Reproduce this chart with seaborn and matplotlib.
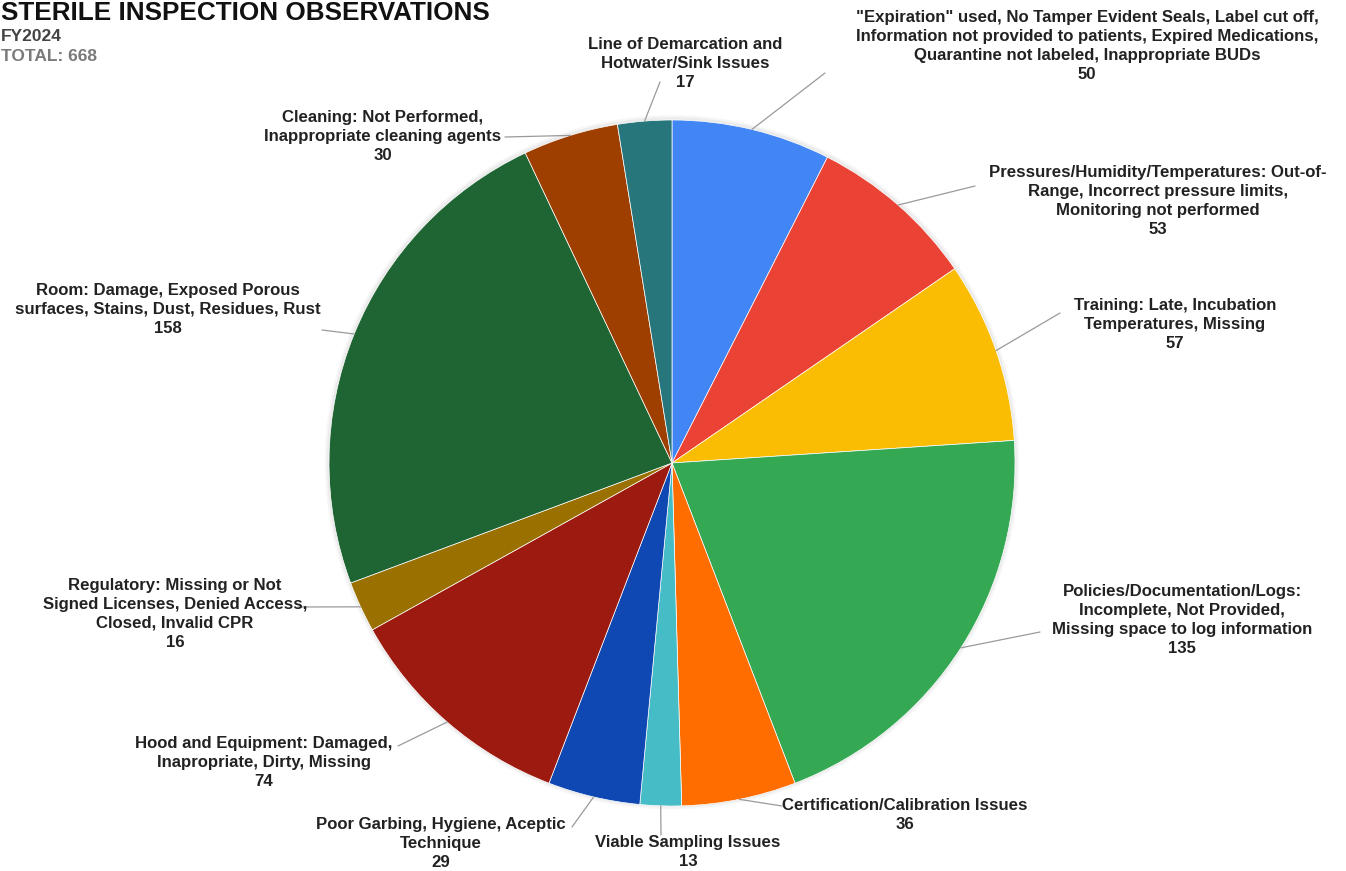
import numpy as np
import matplotlib
matplotlib.use("Agg")
import matplotlib.pyplot as plt
from matplotlib.patches import Circle
import seaborn as sns

categories = [
    '"Expiration" used, No Tamper Evident Seals, Label cut off,\nInformation not provided to patients, Expired Medications,\nQuarantine not labeled, Inappropriate BUDs',
    'Pressures/Humidity/Temperatures: Out-of-\nRange, Incorrect pressure limits,\nMonitoring not performed',
    'Training: Late, Incubation\nTemperatures, Missing',
    'Policies/Documentation/Logs:\nIncomplete, Not Provided,\nMissing space to log information',
    'Certification/Calibration Issues',
    'Viable Sampling Issues',
    'Poor Garbing, Hygiene, Aceptic\nTechnique',
    'Hood and Equipment: Damaged,\nInapropriate, Dirty, Missing',
    'Regulatory: Missing or Not\nSigned Licenses, Denied Access,\nClosed, Invalid CPR',
    'Room: Damage, Exposed Porous\nsurfaces, Stains, Dust, Residues, Rust',
    'Cleaning: Not Performed,\nInappropriate cleaning agents',
    'Line of Demarcation and\nHotwater/Sink Issues',
]
values = [50, 53, 57, 135, 36, 13, 29, 74, 16, 158, 30, 17]
colors = ['#4285F4', '#EA4335', '#FBBC04', '#34A853', '#FF6D01', '#46BDC6',
          '#0F47B3', '#9C1A10', '#9A7000', '#1F6433', '#9E3F00', '#27767B']

title = 'STERILE INSPECTION OBSERVATIONS'
subtitle = 'FY2024'
total_label = 'TOTAL: 668'

# layout (pixels from top-left): label centre x, label top y, leader end point
label_pos = [(1087, 10), (1158, 165), (1175, 298), (1182, 584), (905, 798),
             (688, 835), (441, 817), (264, 736), (175, 578), (168, 283),
             (383, 110), (685, 37)]
leader_end = [(825, 73), (975, 186), (1060, 313), (1040, 632), (782, 806),
              (661, 835), (572, 827), (398, 746), (298, 607), (322, 330),
              (505, 137), (660, 82)]

W, H = 1346, 871
sns.set_theme(style="white")
plt.rcParams['font.family'] = ['Liberation Sans', 'DejaVu Sans']

fig = plt.figure(figsize=(W / 100, H / 100), dpi=100)
cx, cy, R = 672, 463, 343
m = 1.03
ax = fig.add_axes([(cx - R * m) / W, (H - cy - R * m) / H, 2 * R * m / W, 2 * R * m / H])
# faint halo like the soft shadow around the pie
for r, a in [(1.012, 0.10), (1.006, 0.15)]:
    ax.add_patch(Circle((0, 0.002), r, color='#b0b0b0', alpha=a, lw=0, zorder=0))
wedges, _ = ax.pie(values, colors=colors, startangle=90, counterclock=False,
                   radius=1.0, wedgeprops=dict(edgecolor='white', linewidth=0.5))
ax.set_xlim(-m, m)
ax.set_ylim(-m, m)
ax.set_aspect('equal')
ax.axis('off')

def fig_frac(px, py):
    return px / W, 1 - py / H

for w, lab, v, (lx, ly), (ex, ey) in zip(wedges, categories, values, label_pos, leader_end):
    ang = np.deg2rad((w.theta1 + w.theta2) / 2)
    x0, y0 = np.cos(ang), np.sin(ang)
    ax.annotate('', xy=(x0, y0), xytext=fig_frac(ex, ey), textcoords='figure fraction',
                arrowprops=dict(arrowstyle='-', color='#9a9a9a', lw=0.9,
                                shrinkA=0, shrinkB=0))
    fx, fy = fig_frac(lx, ly)
    fig.text(fx, fy, f'{lab}\n{v}', ha='center', va='top', multialignment='center',
             fontsize=12.1, fontweight='bold', color='#222222', linespacing=1.32)

fig.text(0.0005, 1 - 1 / H, title, ha='left', va='top', fontsize=18.8,
         fontweight='bold', color='#111111')
fig.text(0.0005, 1 - 29 / H, subtitle, ha='left', va='top', fontsize=12.5,
         fontweight='bold', color='#444444')
fig.text(0.0005, 1 - 49 / H, total_label, ha='left', va='top', fontsize=12.5,
         fontweight='bold', color='#7a7a7a')

fig.savefig('out.png', dpi=100, facecolor='white')
